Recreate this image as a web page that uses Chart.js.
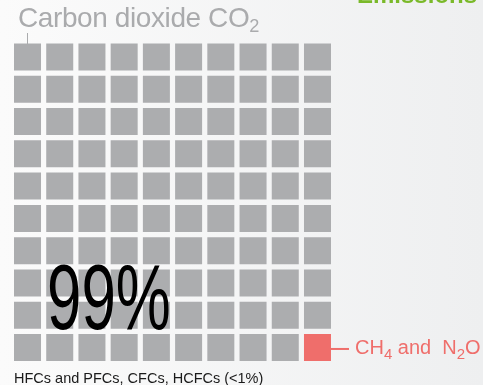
<!DOCTYPE html>
<html>
<head>
<meta charset="utf-8">
<script src="https://cdn.jsdelivr.net/npm/chart.js@4/dist/chart.umd.min.js"></script>
<style>
  body { margin: 0; }
  #wrap {
    position: relative; width: 483px; height: 385px; overflow: hidden;
    background: linear-gradient(to right, #fbfbfb, #eeeff0);
    font-family: "Liberation Sans", Arial, sans-serif;
  }
  #wrap canvas { position: absolute; left: 0; top: 0; }
  .lbl { position: absolute; white-space: nowrap; line-height: 1; }
  .lbl sub { font-size: 0.65em; vertical-align: -0.3em; line-height: 0; }
</style>
</head>
<body>
<div id="wrap">
  <canvas id="waffle" width="483" height="385"></canvas>
  <div class="lbl" id="heading" style="left:357px; top:-17px; font-size:24px; font-weight:bold; color:#7ab929;">Emissions by</div>
  <div class="lbl" id="co2Label" style="left:18px; top:4px; font-size:28px; color:#aaabad; letter-spacing:-0.4px;">Carbon dioxide CO<sub>2</sub></div>
  <div class="lbl" id="pct" style="left:47px; top:251px; font-size:93px; color:#000; transform:scaleX(0.665); transform-origin:0 0;">99%</div>
  <div class="lbl" id="otherLabel" style="left:355px; top:337px; font-size:20px; color:#ef6e6b;">CH<sub style="font-size:0.75em">4</sub> and &nbsp;N<sub style="font-size:0.75em">2</sub>O</div>
  <div class="lbl" id="footLabel" style="left:14px; top:371px; font-size:14.5px; color:#1a1a1a;">HFCs and PFCs, CFCs, HCFCs (&lt;1%)</div>
</div>
<script>
// waffle data
const categories = ['Carbon dioxide CO2', 'CH4 and N2O']
const cellCounts = [99, 1]
const cellColors = ['#acadaf', '#ef6e6b']
const gridCols = 10

// build cells row by row from the counts
let idx = 0
const datasets = categories.map((name, i) => {
  const pts = []
  for (let k = 0; k < cellCounts[i]; k++) {
    pts.push({ x: idx % gridCols, y: Math.floor(idx / gridCols) })
    idx++
  }
  return {
    label: name,
    data: pts,
    backgroundColor: cellColors[i],
    borderWidth: 0,
    pointStyle: 'rect',
    pointRadius: 19.1,
    pointHoverRadius: 19.1
  }
})

// leader lines
const leaders = {
  id: 'leaders',
  afterDraw(chart) {
    const { ctx, scales: { x, y } } = chart
    ctx.save()
    ctx.strokeStyle = '#aaabad'
    ctx.lineWidth = 1
    ctx.beginPath()
    ctx.moveTo(Math.round(x.getPixelForValue(0)) - 0.5, 33)
    ctx.lineTo(Math.round(x.getPixelForValue(0)) - 0.5, y.getPixelForValue(0) - 13)
    ctx.stroke()
    ctx.strokeStyle = '#ef6e6b'
    ctx.lineWidth = 2
    const ly = y.getPixelForValue(9) + 1.5
    ctx.beginPath()
    ctx.moveTo(x.getPixelForValue(9) + 13.5, ly)
    ctx.lineTo(x.getPixelForValue(9) + 31.5, ly)
    ctx.stroke()
    ctx.restore()
  }
}

new Chart(document.querySelector('#waffle'), {
  type: 'scatter',
  data: { datasets },
  options: {
    responsive: false,
    animation: false,
    layout: { autoPadding: false, padding: { left: 11.4, top: 40.9, right: 149.4, bottom: 21.4 } },
    plugins: { legend: { display: false }, tooltip: { enabled: false } },
    scales: {
      x: { type: 'linear', min: -0.5, max: 9.5, display: false },
      y: { type: 'linear', min: -0.5, max: 9.5, reverse: true, display: false }
    }
  },
  plugins: [leaders]
})
</script>
</body>
</html>
